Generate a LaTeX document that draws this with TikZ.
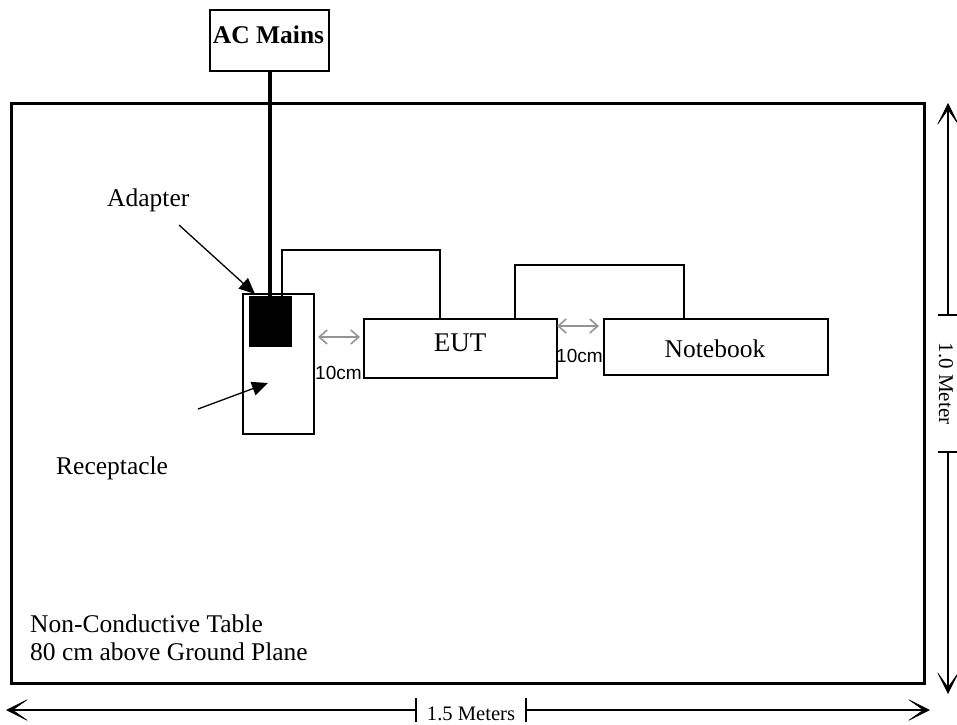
\documentclass[tikz,border=0pt]{standalone}
\usepackage{fontspec}
\setmainfont{Liberation Serif}
\newfontfamily\arialf{Liberation Sans}
\usetikzlibrary{arrows.meta,calc}
\tikzset{
  box/.style={draw, line width=2pt, inner sep=0pt, anchor=north west},
  cable/.style={line width=2pt},
  grayarrow/.style={draw=black!42, line width=1.6pt, {Straight Barb[length=8pt,width=14pt]}-{Straight Barb[length=8pt,width=14pt]}},
  pointer/.style={line width=1.3pt, -{Triangle[length=16pt,width=14pt]}},
  dimline/.style={line width=1.5pt},
  dimhead/.style={-{Stealth[length=24pt,width=24pt,inset=17pt,line width=0.5pt]}},
  lbl/.style={inner sep=0pt, anchor=base west, font=\fontsize{25.5}{28}\selectfont},
}
\begin{document}
\begin{tikzpicture}[x=1pt,y=-1pt]
\useasboundingbox (0,0) rectangle (957,724);
% table
\node[draw, line width=3pt, inner sep=0pt, anchor=north west, minimum width=913pt, minimum height=580pt] (table) at (10,102) {};
% AC mains
\node[box, minimum width=119pt, minimum height=61pt] (acmains) at (209,9) {};
\node[inner sep=0pt, anchor=base, font=\fontsize{25.5}{28}\selectfont\bfseries] (actext) at (268.5,43) {AC Mains};
% receptacle and adapter
\node[box, line width=1.8pt, minimum width=71pt, minimum height=140pt] (recept) at (242,293) {};
\node[fill=black, inner sep=0pt, anchor=north west, minimum width=43pt, minimum height=51pt] (adapter) at (249,296) {};
\draw[line width=4pt] (acmains.south) -- (acmains.south |- adapter.north);
% EUT and notebook
\node[box, minimum width=193pt, minimum height=59pt] (eut) at (363,318) {};
\node[inner sep=0pt, anchor=base, font=\fontsize{27}{30}\selectfont] (euttext) at (460,351) {EUT};
\node[box, minimum width=224pt, minimum height=56pt] (notebook) at (603,318) {};
\node[inner sep=0pt, anchor=base, font=\fontsize{25.5}{28}\selectfont] (nbtext) at (715,357) {Notebook};
% cables
\draw[cable] ([xshift=-10pt]adapter.north east) -- ++(0,-46) -| ([xshift=-20.5pt]eut.north);
\draw[cable] ([xshift=54.5pt]eut.north) -- ++(0,-53) -| ([xshift=-32pt]notebook.north);
% gray 10cm arrows
\coordinate (g1a) at (318,337);
\coordinate (g1b) at (360,337);
\coordinate (g2a) at (557,326);
\coordinate (g2b) at (599,326);
\draw[grayarrow] (g1a) -- (g1b);
\draw[grayarrow] (g2a) -- (g2b);
\node[inner sep=0pt, anchor=base west, font=\arialf\fontsize{19}{21}\selectfont] (cm1) at (315,379) {10cm};
\node[inner sep=0pt, anchor=base west, font=\arialf\fontsize{19}{21}\selectfont] (cm2) at (556,362) {10cm};
% labels and pointers
\node[lbl] (adlabel) at (107,206) {Adapter};
\coordinate (ap) at (179,225);
\draw[pointer] (ap) -- ([shift={(6pt,2pt)}]adapter.north west);
\node[lbl] (rclabel) at (56,474) {Receptacle};
\coordinate (rp) at (198,409);
\coordinate (rt) at (268,383);
\draw[pointer] (rp) -- (rt);
\node[lbl] (tbl1) at (30,632) {Non-Conductive Table};
\node[lbl] (tbl2) at (30,660) {80 cm above Ground Plane};
% horizontal dimension
\coordinate (hl) at (6,710);
\coordinate (ht1) at (416,710);
\coordinate (ht2) at (526,710);
\coordinate (hr) at (930,710);
\draw[dimline, dimhead] (ht1) -- (hl);
\draw[dimline, dimhead] (ht2) -- (hr);
\draw[dimline] ([yshift=-12pt]ht1) -- ([yshift=12pt]ht1);
\draw[dimline] ([yshift=-12pt]ht2) -- ([yshift=12pt]ht2);
\node[inner sep=0pt, anchor=base, font=\fontsize{20.6}{23}\selectfont] (hlabel) at (471,720) {1.5 Meters};
% vertical dimension
\coordinate (vt) at (948,103);
\coordinate (vt1) at (948,315);
\coordinate (vb1) at (948,452);
\coordinate (vb) at (948,694);
\draw[dimline, dimhead] (vt1) -- (vt);
\draw[dimline, dimhead] (vb1) -- (vb);
\draw[dimline] ([xshift=-10pt]vt1) -- ([xshift=10pt]vt1);
\draw[dimline] ([xshift=-10pt]vb1) -- ([xshift=10pt]vb1);
\node[inner sep=0pt, rotate=-90, font=\fontsize{21}{23}\selectfont] (vlabel) at (946,383.5) {1.0 Meter};
\end{tikzpicture}
\end{document}
